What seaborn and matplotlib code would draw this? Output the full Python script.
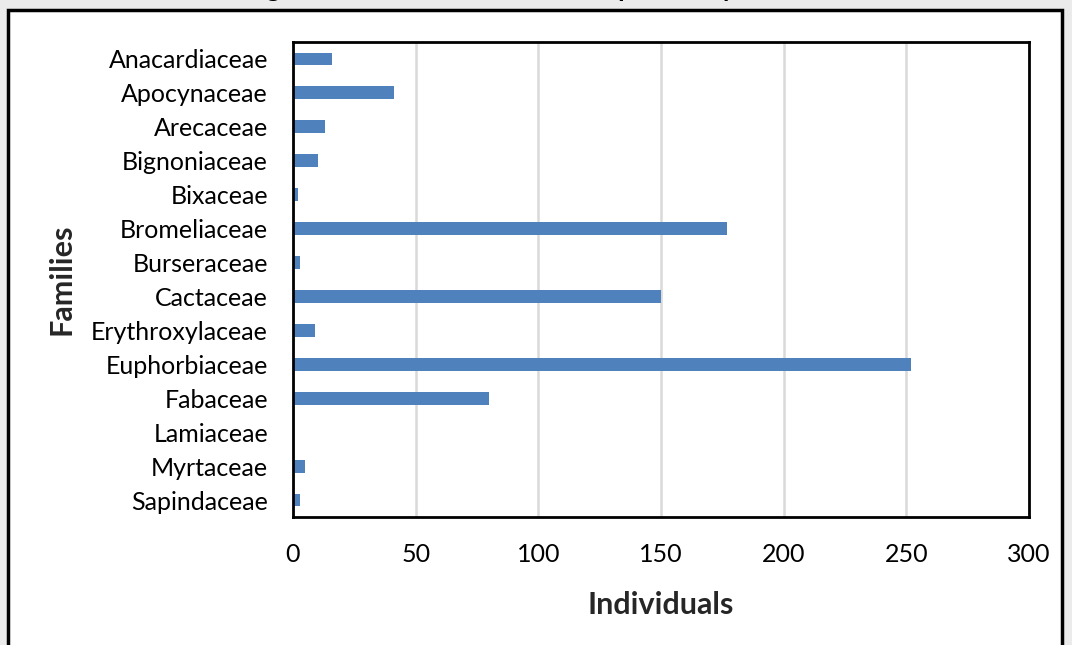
import numpy as np
import pandas as pd
import seaborn as sns
import matplotlib.pyplot as plt
from matplotlib.patches import Rectangle

families = ["Anacardiaceae", "Apocynaceae", "Arecaceae", "Bignoniaceae", "Bixaceae",
            "Bromeliaceae", "Burseraceae", "Cactaceae", "Erythroxylaceae", "Euphorbiaceae",
            "Fabaceae", "Lamiaceae", "Myrtaceae", "Sapindaceae"]
individuals = [16, 41, 13, 10, 2, 177, 3, 150, 9, 252, 80, 0, 5, 3]
x_ticks = [0, 50, 100, 150, 200, 250, 300]

df = pd.DataFrame({"Families": families, "Individuals": individuals})

sns.set_theme(style="white")
plt.rcParams['font.family'] = ['Lato', 'DejaVu Sans']
plt.rcParams['text.color'] = 'black'
plt.rcParams['xtick.color'] = 'black'
plt.rcParams['ytick.color'] = 'black'

fig = plt.figure(figsize=(10.72, 6.45), dpi=100, facecolor="#ebebeb")

# white panel with black frame (the outer chart border)
fig.patches.append(Rectangle((8 / 1072, -0.05), 1054 / 1072, 1.05 - 10 / 645,
                             transform=fig.transFigure, facecolor="white",
                             edgecolor="black", linewidth=2.5, zorder=-1))

# clipped caption above the frame (only descenders show)
fig.text(245 / 1072, 1 + 3 / 645, "Figure 5. Number of individuals per family",
         fontsize=19, fontweight="bold", color="black", va="baseline", ha="left")

ax = fig.add_axes([293 / 1072, 1 - 517 / 645, 736 / 1072, 475 / 645])
ax.set_facecolor("white")
sns.barplot(data=df, x="Individuals", y="Families", orient="h", color="#4f81bd",
            width=0.38, saturation=1, linewidth=0, ax=ax, zorder=2)

ax.set_xlim(0, 300)
ax.set_xticks(x_ticks)
ax.set_xticklabels([str(v) for v in x_ticks], fontsize=18)
ax.xaxis.grid(True, color="#d9d9d9", linewidth=1.8, zorder=0)
ax.set_axisbelow(True)

ax.set_ylim(len(families) - 0.5, -0.5)
ax.set_yticks(np.arange(-0.5, len(families), 1), minor=True)
ax.tick_params(axis="y", which="major", length=0, pad=18, labelsize=18)
ax.tick_params(axis="y", which="minor", length=8, width=2, direction="out", color="black")
ax.tick_params(axis="x", which="major", length=7, width=2, direction="out", color="black",
               pad=12)

for s in ax.spines.values():
    s.set_visible(True)
    s.set_color("black")
    s.set_linewidth(2)
    s.set_zorder(5)

ax.set_xlabel("Individuals", fontsize=22, fontweight="bold", labelpad=18)
ax.set_ylabel("Families", fontsize=22, fontweight="bold")
ax.yaxis.set_label_coords(-0.296, 0.5)

fig.savefig("out.png", dpi=100, facecolor=fig.get_facecolor())
